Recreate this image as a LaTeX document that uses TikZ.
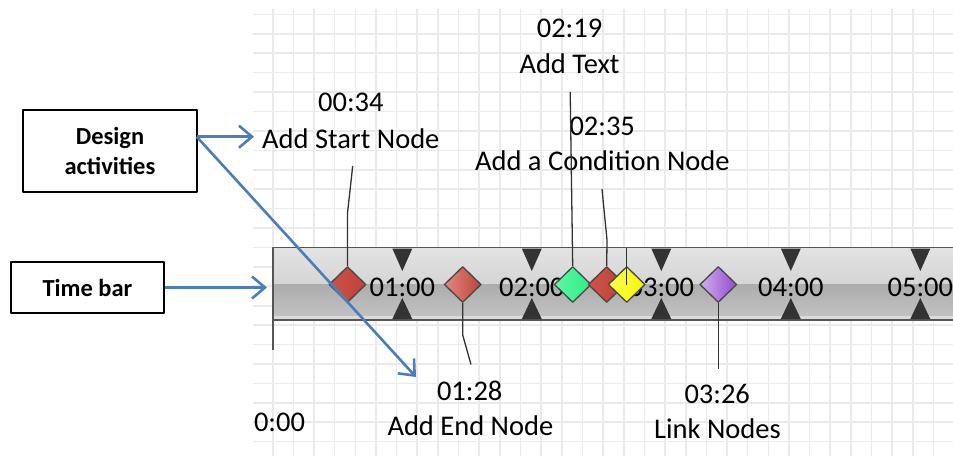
\documentclass[tikz,border=0pt]{standalone}
\usepackage{fontspec}
\setmainfont{Carlito}
\usepackage{xcolor}
\usetikzlibrary{arrows.meta,shapes.geometric}
\definecolor{linkblue}{HTML}{4A7EBB}
\definecolor{gridgray}{HTML}{EAEAEA}
\definecolor{barline}{HTML}{555555}
\definecolor{redA}{HTML}{CF5349}
\definecolor{redB}{HTML}{BF4238}
\definecolor{redC}{HTML}{E08A82}
\definecolor{greenA}{HTML}{62F6A4}
\definecolor{greenB}{HTML}{2AEE84}
\definecolor{yellowA}{HTML}{FFFF50}
\definecolor{yellowB}{HTML}{F4F400}
\definecolor{violetA}{HTML}{D2AEEE}
\definecolor{violetB}{HTML}{9549CD}
\tikzset{
  gridline/.style={draw=gridgray, line width=1.6pt},
  infobox/.style={rectangle, draw=black, line width=1.8pt, inner sep=0pt, align=center,
    font=\fontsize{24.5}{30}\selectfont\bfseries},
  pointer/.style={draw=linkblue, line width=2.6pt, -{Straight Barb[length=13pt,width=22pt]}},
  event/.style={diamond, draw=black!72, line width=1.3pt, inner sep=0pt,
    minimum width=37pt, minimum height=36pt},
  stamp/.style={anchor=base, inner sep=0pt, font=\fontsize{28.5}{30}\selectfont},
  lead/.style={draw=black!80, line width=1.3pt},
  tick/.style={fill=black!80},
  every picture/.style={line join=round}
}

\begin{document}
\begin{tikzpicture}[x=1pt, y=-1pt]
  \useasboundingbox (0,0) rectangle (953,456);

  % squared paper behind the time line
  \foreach \k in {0,...,22}
    \draw[gridline] (253,14.4+19.42*\k) -- (953,14.4+19.42*\k);
  \foreach \k in {0,...,32}
    \draw[gridline] (272.7+20.65*\k,9) -- (272.7+20.65*\k,456);

  % the bar itself
  \shade[top color=gray!22, middle color=gray!6, bottom color=gray!33] (272.7,248) rectangle (960,284);
  \shade[top color=gray!65, bottom color=gray!48] (272.7,284) rectangle (960,316);
  \fill[gray!28] (272.7,316) rectangle (960,319.5);
  \draw[barline, line width=1.8pt] (960,247.5) -- (272.7,247.5) -- (272.7,350);
  \draw[barline, line width=1.8pt] (272.7,320) -- (960,320);

  % hour marks
  \foreach \h [evaluate=\h as \x using 272.8+129.5*\h] in {1,...,5} {
    \fill[tick] (\x-10,248.5) -- (\x+10,248.5) -- (\x,271) -- cycle;
    \fill[tick] (\x-10,319) -- (\x+10,319) -- (\x,298) -- cycle;
    \node[stamp] (hr\h) at (\x,296.7) {0\h:00};
  }
  \node[stamp] (zero) at (279.5,431.7) {0:00};

  % events on the bar
  \node[event, left color=redA, right color=redB] (e1) at (347.5,284.5) {};
  \node[event, left color=redC, right color=redB] (e2) at (462.7,284.5) {};
  \node[event, left color=greenA, right color=greenB] (e3) at (572.7,284.5) {};
  \node[event, left color=redA, right color=redB] (e4) at (606.7,284.5) {};
  \node[event, left color=yellowA, right color=yellowB] (e5) at (626.7,284.5) {};
  \node[event, left color=violetA, right color=violetB] (e6) at (718.3,284.5) {};

  % captions
  \node[stamp] (tm1) at (350.8,111.7) {00:34};
  \node[stamp] (ac1) at (350.8,148.3) {Add Start Node};
  \node[stamp] (tm3) at (569.5,37.5) {02:19};
  \node[stamp] (ac3) at (569.5,73.3) {Add Text};
  \node[stamp] (tm4) at (602.2,135.7) {02:35};
  \node[stamp] (ac4) at (602.4,170.7) {Add a Condition Node};
  \node[stamp] (tm2) at (469.7,400) {01:28};
  \node[stamp] (ac2) at (470.4,435) {Add End Node};
  \node[stamp] (tm6) at (717.2,403.3) {03:26};
  \node[stamp] (ac6) at (717.5,438) {Link Nodes};

  % leader lines from captions to events
  \coordinate (k1) at (352.7,166);
  \coordinate (k1b) at (347.5,213);
  \coordinate (k3) at (570.2,92);
  \coordinate (k4) at (602,189);
  \coordinate (k4b) at (607,240);
  \coordinate (k5) at (626.7,248);
  \coordinate (k2a) at (462.7,335);
  \coordinate (k2) at (471,364.5);
  \coordinate (k6) at (718.3,368.5);
  \draw[lead] (k1) -- (k1b) -- (e1.north);
  \draw[lead] (k3) -- (e3.north);
  \draw[lead] (k4) -- (k4b) -- (e4.north);
  \draw[lead] (k5) -- (e5.center);
  \draw[lead] (e2.south) -- (k2a) -- (k2);
  \draw[lead] (e6.south) -- (k6);

  % legend boxes
  \node[infobox, minimum width=173.4pt, minimum height=81.7pt] (design) at (110,150.8) {Design\\activities};
  \node[infobox, minimum width=153.6pt, minimum height=51.6pt] (timebar) at (87.5,287.5) {Time bar};

  \coordinate (fork) at (196.7,136.7);
  \coordinate (tipA) at (254,136.7);
  \coordinate (tipB) at (416,377);
  \coordinate (tipC) at (267,287.5);
  \draw[pointer] (fork) -- (tipA);
  \draw[pointer] (fork) -- (tipB);
  \draw[pointer] (timebar.east) -- (tipC);
\end{tikzpicture}
\end{document}
